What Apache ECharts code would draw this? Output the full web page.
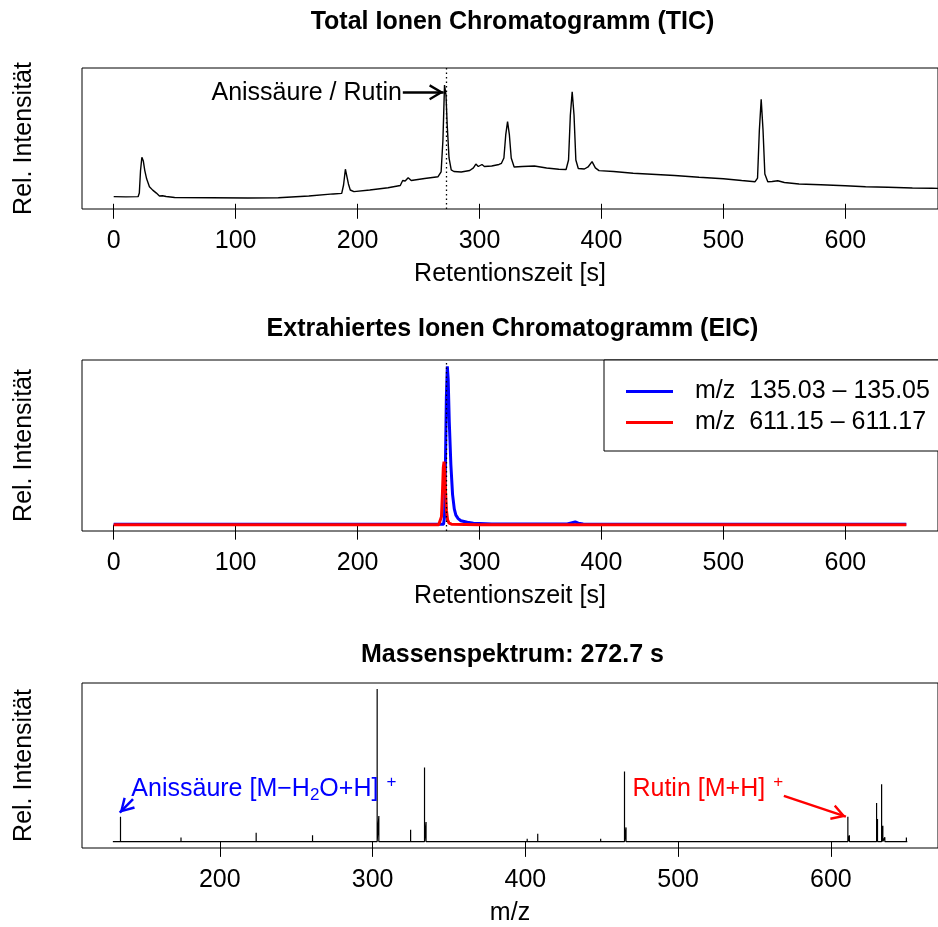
<!DOCTYPE html>
<html>
<head>
<meta charset="utf-8">
<script src="https://cdn.jsdelivr.net/npm/echarts@6/dist/echarts.min.js"></script>
<style>html,body{margin:0;padding:0;background:#fff}#c{width:938px;height:927px}</style>
</head>
<body>
<div id="c"></div>
<script>
// ---------- data ----------
// TIC: [retention time s, rel. intensity % of Anissäure/Rutin peak]
const ticPoints = [
  [0,6.0],[10,5.8],[20,6.0],[21,9.0],[22,28.0],[23.1,39.2],[24.3,36.0],[25.5,28.0],[27,21.0],[29.3,14.4],
  [32,11.5],[35,9.0],[37.5,6.6],[40,6.8],[41.5,8.4],[43,6.1],[50,5.3],[80,5.1],[110,4.9],[135,5.1],
  [160,6.6],[180,8.3],[187,8.8],[188.5,15.8],[190,29.1],[191,27.6],[192.5,16.7],[194,11.6],[197,10.2],
  [210,11.6],[225,13.5],[235,15.4],[237,19.6],[239,19.2],[241.5,22.0],[244,19.6],[255,21.3],[266,22.8],
  [268.5,26.8],[270,53.7],[271.3,100],[272.5,91.7],[273.5,66.4],[275,38.6],[276.8,28.5],[279,27.2],
  [285,26.8],[292,28.0],[295,30.2],[297,33.5],[299,31.4],[302,33.1],[304,31.4],[310,31.8],[316,33.1],
  [318,34.1],[320,38.6],[321.5,58.0],[323,69.2],[324.5,58.0],[326,38.6],[328.4,31.0],[335,31.4],
  [345,31.8],[355,30.2],[365,29.1],[371,28.9],[373,36.9],[374.5,74.8],[376,94.4],[377.5,74.8],[379,36.9],
  [381,29.7],[386,29.3],[389,31.0],[392.3,35.5],[395,30.2],[398,27.9],[410,27.2],[426,25.7],[445,24.7],
  [460,23.8],[480,22.3],[500,21.1],[515,19.6],[526,18.6],[528,21.7],[529.5,62.2],[531,88.0],[532.5,62.2],
  [534,25.1],[536.4,18.6],[540,18.8],[544.6,19.4],[550,17.9],[562,16.7],[580,16.0],[600,15.2],
  [616.6,14.4],[635,13.9],[655,13.3],[671,13.1],[680,12.9]
];
// EIC m/z 135.03–135.05 (blue) and 611.15–611.17 (red): [time s, % of blue max]
const eicBlue = [
  [0,0.2],[60,0.25],[120,0.2],[180,0.25],[240,0.2],[270.5,0.3],[271.3,5],[272.0,35],[272.8,80],[273.6,100],
  [274.3,92],[275.2,65],[276.5,38],[277.9,19],[279.3,10],[280.6,6],[282.5,3.8],[284.7,2.5],[290,1.5],
  [295,0.9],[310,0.5],[340,0.4],[372,0.4],[376,1.2],[378.5,1.7],[381,0.9],[385,0.4],[420,0.3],[480,0.2],
  [540,0.25],[600,0.2],[650,0.2]
];
const eicRed = [
  [0,0],[100,0],[200,0],[266.5,0],[267.8,0.5],[268.8,5],[269.6,20],[270.3,36],[270.9,39.8],
  [271.5,33],[272.2,20],[272.9,9],[273.8,3],[275,1],[277,0.3],[300,0],[400,0],[500,0],[650,0]
];
// Mass spectrum at 272.7 s: m/z and rel. intensity (% of base peak)
const msMz  = [135.0,168.1,174.6,210.4,223.8,260.7,269.6,303.0,304.1,324.9,334.0,335.0,362.1,375.6,401.2,408.1,
               449.3,464.9,465.9,476.0,479.2,488.3,503.0,518.7,611.1,612.1,629.9,630.5,633.2,634.0,635.3,649.4];
const msInt = [16.5,1.0,2.8,1.5,6.0,4.3,1.0,100,17,8.0,48.7,13,1.5,1.0,2.0,5.3,
               2.0,46,9.5,1.0,1.0,1.2,1.0,1.2,16.5,4.3,25.4,15,37.7,10.6,3.0,2.8];
const msRange = [130, 650];
const msBaseline = 0.2;
const timeTicks = [0,100,200,300,400,500,600];
const mzTicks = [200,300,400,500,600];
const legendLabels = ['m/z  135.03 \u2013 135.05', 'm/z  611.15 \u2013 611.17'];
const markedTime = 272.7;

// ---------- styling ----------
const FONT = 'Liberation Sans, Arial, Helvetica, sans-serif';
const FS = 25;
const BLUE = '#0000ff', RED = '#ff0000';
// open arrow head, tip at the centre of its (padded) bounding box
const ARROW = 'path://M8,0 L16,13.5 L13.8,14.6 L8,4.6 L2.2,14.6 L0,13.5 Z M-6.6,-14.6 L-6.6,-14.6 Z M22.6,14.6 L22.6,14.6 Z';

// stick spectrum built from msMz / msInt
const msData = [[msRange[0], msBaseline]];
msMz.forEach((m, i) => { msData.push([m, msBaseline], [m, msInt[i]], [m, msBaseline]); });
msData.push([msRange[1], msBaseline]);

function xAx(idx, min, max, ticks, name) {
  return {
    type: 'value', gridIndex: idx, min: min, max: max,
    axisLine: {show: false}, splitLine: {show: false},
    axisTick: {show: true, customValues: ticks, length: 15, lineStyle: {color: '#000', width: 1}},
    axisLabel: {customValues: ticks, margin: 19.5, color: '#000', fontSize: FS, fontFamily: FONT},
    name: name, nameLocation: 'middle', nameGap: 53,
    nameTextStyle: {color: '#000', fontSize: FS, fontFamily: FONT}
  };
}
function yAx(idx, min, max) {
  return {
    type: 'value', gridIndex: idx, min: min, max: max,
    axisLine: {show: false}, axisTick: {show: false}, axisLabel: {show: false}, splitLine: {show: false},
    name: 'Rel. Intensit\u00e4t', nameLocation: 'middle', nameGap: 45,
    nameTextStyle: {color: '#000', fontSize: FS, fontFamily: FONT}
  };
}
function arrowLine(from, to, color) {
  return {
    silent: true, symbol: ['none', ARROW], symbolSize: 29.2,
    label: {show: false}, emphasis: {disabled: true},
    lineStyle: {color: color, width: 2.5, type: 'solid', opacity: 1}, itemStyle: {color: color, opacity: 1},
    data: [[{coord: from}, {coord: to}]]
  };
}
function textMark(idx, pos, text, color, side, rich) {
  return {
    type: 'scatter', xAxisIndex: idx, yAxisIndex: idx, symbolSize: 0, silent: true, z: 5,
    itemStyle: {opacity: 1, color: color},
    data: [pos],
    label: {show: true, position: side, distance: 0, formatter: text, color: color, opacity: 1,
            fontSize: FS, fontFamily: FONT, rich: rich}
  };
}
const richBlue = {
  a: {fontSize: FS, fontFamily: FONT, color: BLUE, lineHeight: 30},
  s: {fontSize: 17, fontFamily: FONT, color: BLUE, lineHeight: 14, verticalAlign: 'bottom'},
  p: {fontSize: 17, fontFamily: FONT, color: BLUE, lineHeight: 13, verticalAlign: 'top', padding: [0, 0, 0, 8]}
};
const richRed = {
  a: {fontSize: FS, fontFamily: FONT, color: RED, lineHeight: 30},
  p: {fontSize: 17, fontFamily: FONT, color: RED, lineHeight: 13, verticalAlign: 'top', padding: [0, 0, 0, 8]}
};
function titleText(y, text) {
  return {type: 'text', x: 512.5, y: y, silent: true,
          style: {text: text, fontSize: FS, fontWeight: 'bold', fontFamily: FONT, fill: '#000',
                  align: 'center', verticalAlign: 'middle'}};
}
const dotted = {
  silent: true, symbol: 'none', label: {show: false}, emphasis: {disabled: true},
  lineStyle: {color: '#000', width: 1.3, type: [1.5, 3]}, data: [{xAxis: markedTime}]
};

const chart = echarts.init(document.getElementById('c'), null, {renderer: 'canvas'});
chart.setOption({
  animation: false,
  backgroundColor: '#fff',
  textStyle: {fontFamily: FONT},
  grid: [
    {left: 82, top: 68, width: 861.5, height: 141, show: true, borderColor: '#000', borderWidth: 1},
    {left: 82, top: 360, width: 861.5, height: 171, show: true, borderColor: '#000', borderWidth: 1},
    {left: 82, top: 683, width: 861.5, height: 170, show: true, borderColor: '#000', borderWidth: 1}
  ],
  xAxis: [
    xAx(0, -26, 676, timeTicks, 'Retentionszeit [s]'),
    xAx(1, -26, 676, timeTicks, 'Retentionszeit [s]'),
    xAx(2, 109.8, 670.1, mzTicks, 'm/z')
  ],
  yAxis: [yAx(0, -4.4, 114.4), yAx(1, -4, 104), yAx(2, -4, 104)],
  legend: {
    left: 604, top: 360, orient: 'vertical', selectedMode: false, z: 10,
    padding: [19, 14, 16, 22], itemGap: 6, itemWidth: 47, itemHeight: 3, icon: 'rect',
    borderColor: '#000', borderWidth: 1, borderRadius: 0, backgroundColor: '#fff',
    textStyle: {fontSize: FS, fontFamily: FONT, color: '#000', padding: [0, 0, 0, 17]},
    data: legendLabels
  },
  graphic: [
    titleText(22.5, 'Total Ionen Chromatogramm (TIC)'),
    titleText(329, 'Extrahiertes Ionen Chromatogramm (EIC)'),
    titleText(655, 'Massenspektrum: 272.7 s')
  ],
  series: [
    {type: 'line', xAxisIndex: 0, yAxisIndex: 0, data: ticPoints, showSymbol: false, symbol: 'none',
     silent: true, lineStyle: {color: '#000', width: 1.4}, color: '#000', markLine: dotted},
    {type: 'line', name: legendLabels[0], xAxisIndex: 1, yAxisIndex: 1, data: eicBlue, showSymbol: false,
     symbol: 'none', silent: true, z: 2, color: BLUE, lineStyle: {color: BLUE, width: 3}},
    {type: 'line', name: legendLabels[1], xAxisIndex: 1, yAxisIndex: 1, data: eicRed, showSymbol: false,
     symbol: 'none', silent: true, z: 3, color: RED, lineStyle: {color: RED, width: 3}, markLine: dotted},
    {type: 'line', xAxisIndex: 2, yAxisIndex: 2, data: msData, showSymbol: false, symbol: 'none',
     silent: true, color: '#000', lineStyle: {color: '#000', width: 1.2}},
    Object.assign(textMark(0, [236.3, 93.3], 'Anissäure / Rutin', '#000', 'left'),
      {markLine: arrowLine([237.1, 93.9], [270.6, 93.9], '#000')}),
    Object.assign(textMark(2, [142.1, 34.6], '{a|Anissäure [M\u2212H}{s|2}{a|O+H]}{p|+}', BLUE, 'right', richBlue),
      {markLine: arrowLine([143.2, 28.0], [134.5, 19.1], BLUE)}),
    Object.assign(textMark(2, [470.1, 34.6], '{a|Rutin [M+H]}{p|+}', RED, 'right', richRed),
      {markLine: arrowLine([569.2, 30.1], [609.8, 16.5], RED)})
  ]
});
</script>
</body>
</html>
